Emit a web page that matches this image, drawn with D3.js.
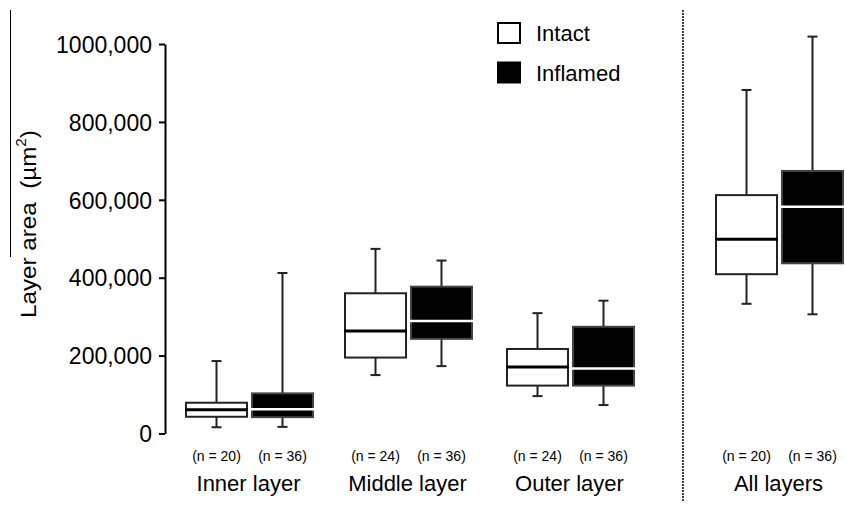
<!DOCTYPE html>
<html>
<head>
<meta charset="utf-8">
<script src="https://cdn.jsdelivr.net/npm/d3@7"></script>
<style>
  body { margin: 0; background: #fff; }
  text { font-family: "Liberation Sans", Arial, sans-serif; fill: #000; }
</style>
</head>
<body>
<div id="chart"></div>
<script>
// layers and conditions
var layers = ["Inner layer", "Middle layer", "Outer layer", "All layers"];
var conditions = ["Intact", "Inflamed"];

// box stats (um^2)
var intactLow = [16000, 150000, 96000, 333000];
var intactQ1 = [43000, 195000, 123000, 409000];
var intactMedian = [61000, 263000, 171000, 499000];
var intactQ3 = [79000, 360000, 217000, 612000];
var intactHigh = [186000, 474000, 309000, 882000];
var intactN = [20, 24, 24, 20];

var inflamedLow = [17000, 173000, 73000, 306000];
var inflamedQ1 = [42000, 243000, 123000, 437000];
var inflamedMedian = [62000, 289000, 167000, 582000];
var inflamedQ3 = [103000, 377000, 274000, 674000];
var inflamedHigh = [412000, 444000, 341000, 1019000];
var inflamedN = [36, 36, 36, 36];

var yTicks = [0, 200000, 400000, 600000, 800000, 1000000];
var yTickLabels = ["0", "200,000", "400,000", "600,000", "800,000", "1000,000"];

var width = 845, height = 506;

var svg = d3.select("#chart")
  .append("svg")
  .attr("width", width)
  .attr("height", height);

var y = d3.scaleLinear()
  .domain([0, 1000000])
  .range([433.5, 44]);

// group centres (last group sits apart, behind the dotted divider)
var x = d3.scaleOrdinal()
  .domain(layers)
  .range([249.5, 408.5, 570.5, 779.5]);

var sub = d3.scaleBand()
  .domain(conditions)
  .range([-64.5, 64.5])
  .paddingInner(0.045);

// build rows
var boxes = [];
layers.forEach(function (l, i) {
  boxes.push({ layer: l, cond: "Intact", low: intactLow[i], q1: intactQ1[i], med: intactMedian[i], q3: intactQ3[i], high: intactHigh[i], n: intactN[i] });
  boxes.push({ layer: l, cond: "Inflamed", low: inflamedLow[i], q1: inflamedQ1[i], med: inflamedMedian[i], q3: inflamedQ3[i], high: inflamedHigh[i], n: inflamedN[i] });
});

function cx(d) { return x(d.layer) + sub(d.cond) + sub.bandwidth() / 2; }

// stray thin line at top left
svg.append("line")
  .attr("x1", 10.5).attr("x2", 10.5)
  .attr("y1", 10).attr("y2", 257)
  .attr("stroke", "#000").attr("stroke-width", 1);

// Y axis
var yAxis = svg.append("g")
  .attr("transform", "translate(165,0)")
  .call(d3.axisLeft(y)
    .tickValues(yTicks)
    .tickFormat(function (d, i) { return yTickLabels[i]; })
    .tickSize(6)
    .tickSizeOuter(0)
    .tickPadding(7));
yAxis.select(".domain").attr("stroke", "#000").attr("stroke-width", 2);
yAxis.selectAll(".tick line").attr("stroke", "#000").attr("stroke-width", 2);
yAxis.selectAll(".tick text")
  .style("font-size", "23px")
  .attr("dy", "0.36em")
  .attr("font-family", "Liberation Sans, Arial, sans-serif");

// Y label
var ylab = svg.append("text")
  .attr("transform", "translate(36,224) rotate(-90) scale(1.1,1)")
  .attr("text-anchor", "middle")
  .style("font-size", "22px");
ylab.append("tspan").text("Layer area\u00a0\u00a0(\u00b5m");
ylab.append("tspan").attr("dy", "-10").style("font-size", "14px").text("2");
ylab.append("tspan").attr("dy", "10").text(")");

// dotted divider
svg.append("line")
  .attr("x1", 683).attr("x2", 683)
  .attr("y1", 10).attr("y2", 502)
  .attr("stroke", "#000")
  .attr("stroke-width", 1.5)
  .attr("stroke-dasharray", "2,1");

// whiskers
var wh = svg.append("g").selectAll("g")
  .data(boxes)
  .enter()
  .append("g");

wh.append("line")
  .attr("x1", cx).attr("x2", cx)
  .attr("y1", function (d) { return y(d.high); })
  .attr("y2", function (d) { return y(d.low); })
  .attr("stroke", "#222").attr("stroke-width", 2);

wh.append("line")
  .attr("x1", function (d) { return cx(d) - 5; })
  .attr("x2", function (d) { return cx(d) + 5; })
  .attr("y1", function (d) { return y(d.high); })
  .attr("y2", function (d) { return y(d.high); })
  .attr("stroke", "#222").attr("stroke-width", 2);

wh.append("line")
  .attr("x1", function (d) { return cx(d) - 5; })
  .attr("x2", function (d) { return cx(d) + 5; })
  .attr("y1", function (d) { return y(d.low); })
  .attr("y2", function (d) { return y(d.low); })
  .attr("stroke", "#222").attr("stroke-width", 2);

// boxes
wh.append("rect")
  .attr("x", function (d) { return x(d.layer) + sub(d.cond) + 1; })
  .attr("width", sub.bandwidth() - 2)
  .attr("y", function (d) { return y(d.q3); })
  .attr("height", function (d) { return y(d.q1) - y(d.q3); })
  .attr("fill", function (d) { return d.cond == "Intact" ? "#fff" : "#000"; })
  .attr("stroke", function (d) { return d.cond == "Intact" ? "#222" : "#444"; })
  .attr("stroke-width", 2);

// medians
wh.append("line")
  .attr("x1", function (d) { return x(d.layer) + sub(d.cond); })
  .attr("x2", function (d) { return x(d.layer) + sub(d.cond) + sub.bandwidth(); })
  .attr("y1", function (d) { return y(d.med); })
  .attr("y2", function (d) { return y(d.med); })
  .attr("stroke", function (d) { return d.cond == "Intact" ? "#000" : "#fff"; })
  .attr("stroke-width", function (d) { return d.cond == "Intact" ? 3 : 2.5; });

// n labels
svg.append("g").selectAll("text")
  .data(boxes)
  .enter()
  .append("text")
  .attr("x", cx)
  .attr("y", 461)
  .attr("text-anchor", "middle")
  .style("font-size", "14px")
  .text(function (d) { return "(n = " + d.n + ")"; });

// group labels
svg.append("g").selectAll("text")
  .data(layers)
  .enter()
  .append("text")
  .attr("x", function (d) { return x(d) - 1; })
  .attr("y", 491)
  .attr("text-anchor", "middle")
  .style("font-size", "22px")
  .text(function (d) { return d; });

// legend
var legend = svg.append("g").selectAll("g")
  .data(conditions)
  .enter()
  .append("g")
  .attr("transform", function (d, i) { return "translate(498," + (23 + i * 39.5) + ")"; });

legend.append("rect")
  .attr("width", 22).attr("height", 20)
  .attr("fill", function (d) { return d == "Intact" ? "#fff" : "#000"; })
  .attr("stroke", "#000").attr("stroke-width", 2);

legend.append("text")
  .attr("x", 38)
  .attr("y", 18)
  .style("font-size", "22px")
  .text(function (d) { return d; });
</script>
</body>
</html>
